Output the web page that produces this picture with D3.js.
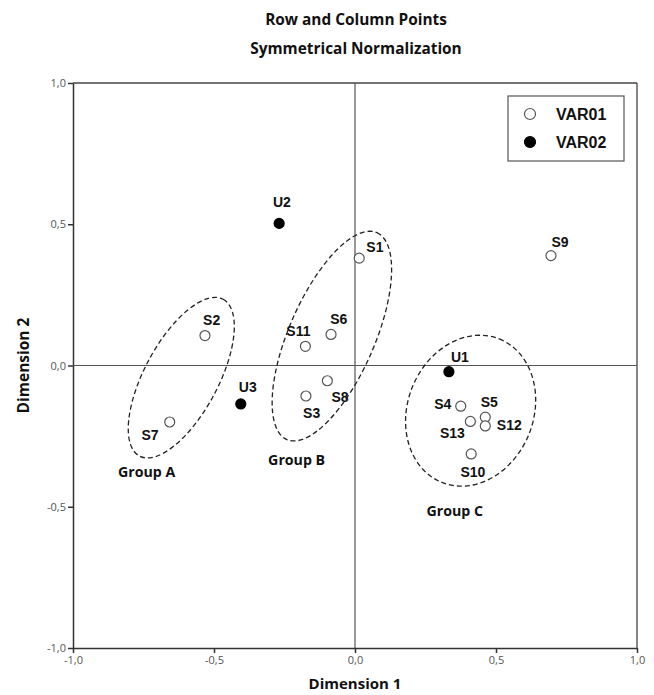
<!DOCTYPE html>
<html>
<head>
<meta charset="utf-8">
<script src="https://cdn.jsdelivr.net/npm/d3@7"></script>
<style>
  html, body { margin: 0; padding: 0; background: #fff; }
  svg { display: block; }
</style>
</head>
<body>
<div id="chart"></div>
<script>
// ---------- DATA ----------
const title1 = "Row and Column Points";
const title2 = "Symmetrical Normalization";
const xTitle = "Dimension 1";
const yTitle = "Dimension 2";
const tickValues = [-1.0, -0.5, 0.0, 0.5, 1.0];
const tickLabels = ["-1,0", "-0,5", "0,0", "0,5", "1,0"];

const seriesNames = ["VAR01", "VAR02"];

const var01Labels = ["S1", "S2", "S3", "S4", "S5", "S6", "S7", "S8", "S9", "S10", "S11", "S12", "S13"];
const var01X = [0.015, -0.532, -0.174, 0.375, 0.462, -0.085, -0.657, -0.098, 0.695, 0.412, -0.176, 0.462, 0.409];
const var01Y = [0.380, 0.106, -0.108, -0.144, -0.183, 0.110, -0.200, -0.054, 0.389, -0.313, 0.068, -0.214, -0.198];

const var02Labels = ["U1", "U2", "U3"];
const var02X = [0.333, -0.269, -0.405];
const var02Y = [-0.022, 0.503, -0.136];

const groupNames = ["Group A", "Group B", "Group C"];
const groupCx = [-0.616, -0.082, 0.410];
const groupCy = [-0.043, 0.104, -0.160];
const groupRx = [0.315, 0.400, 0.274];
const groupRy = [0.131, 0.152, 0.223];
const groupAngle = [61.9, 66.5, 68.2];
const groupLabelX = [-0.739, -0.207, 0.354];
const groupLabelY = [-0.375, -0.332, -0.514];

// ---------- LAYOUT (label offsets in px) ----------
const labelOffset = {
  S1: [15.7, -11], S2: [6.7, -15.7], S3: [5.7, 17], S4: [-18, -2.4], S5: [4, -14.7],
  S6: [7.7, -15], S7: [-19.7, 12.7], S8: [12.7, 16.4], S9: [9, -13.6], S10: [1.7, 18.4],
  S11: [-7, -15.7], S12: [24, -1.3], S13: [-18, 12],
  U1: [11, -15], U2: [2.7, -21.6], U3: [7, -16.6]
};

const W = 654, H = 695;
const m = { left: 73, right: 654 - 637, top: 83, bottom: 695 - 648 };

const svg = d3.select("#chart").append("svg")
  .attr("width", W).attr("height", H)
  .style("background", "#fff");

const x = d3.scaleLinear().domain([-1, 1]).range([m.left, W - m.right]);
const y = d3.scaleLinear().domain([-1, 1]).range([H - m.bottom, m.top]);

const titleFont = "'Open Sans', 'DejaVu Sans', sans-serif";
const labelFont = "'Liberation Sans', Arial, sans-serif";

// Titles
svg.append("text").attr("x", 356).attr("y", 19)
  .attr("text-anchor", "middle").attr("dominant-baseline", "central")
  .style("font-family", titleFont).style("font-weight", "bold").style("font-size", "15.4px")
  .style("fill", "#111").text(title1);
svg.append("text").attr("x", 356).attr("y", 48)
  .attr("text-anchor", "middle").attr("dominant-baseline", "central")
  .style("font-family", titleFont).style("font-weight", "bold").style("font-size", "15.4px")
  .style("fill", "#111").text(title2);

// Axes
const xAxis = d3.axisBottom(x).tickValues(tickValues)
  .tickFormat((d, i) => tickLabels[i]).tickSizeOuter(0).tickSizeInner(5).tickPadding(3);
const yAxis = d3.axisLeft(y).tickValues(tickValues)
  .tickFormat((d, i) => tickLabels[i]).tickSizeOuter(0).tickSizeInner(5).tickPadding(2);

const gx = svg.append("g").attr("transform", `translate(0,${H - m.bottom})`).call(xAxis);
const gy = svg.append("g").attr("transform", `translate(${m.left},0)`).call(yAxis);
[gx, gy].forEach(g => {
  g.select(".domain").attr("stroke", "#333").attr("stroke-width", 1.5);
  g.selectAll(".tick line").attr("stroke", "#333").attr("stroke-width", 1.5);
  g.selectAll(".tick text").style("font-family", titleFont).style("font-size", "11px")
    .style("fill", "#555");
});

// Frame top / right
svg.append("line").attr("x1", x(-1)).attr("x2", x(1)).attr("y1", y(1)).attr("y2", y(1))
  .attr("stroke", "#444").attr("stroke-width", 1.3);
svg.append("line").attr("x1", x(1)).attr("x2", x(1)).attr("y1", y(1)).attr("y2", y(-1))
  .attr("stroke", "#444").attr("stroke-width", 1.3);

// Reference lines at 0
svg.append("line").attr("x1", x(0)).attr("x2", x(0)).attr("y1", y(1)).attr("y2", y(-1))
  .attr("stroke", "#555").attr("stroke-width", 1.2);
svg.append("line").attr("x1", x(-1)).attr("x2", x(1)).attr("y1", y(0)).attr("y2", y(0))
  .attr("stroke", "#555").attr("stroke-width", 1.2);

// Axis titles
svg.append("text").attr("x", x(0)).attr("y", 683)
  .attr("text-anchor", "middle").attr("dominant-baseline", "central")
  .style("font-family", titleFont).style("font-weight", "bold").style("font-size", "15px")
  .style("fill", "#111").text(xTitle);
svg.append("text").attr("transform", `translate(23,${y(0)}) rotate(-90)`)
  .attr("text-anchor", "middle").attr("dominant-baseline", "central")
  .style("font-family", titleFont).style("font-weight", "bold").style("font-size", "15.5px")
  .style("fill", "#111").text(yTitle);

// Group ellipses
const unit = x(1) - x(0);
const groups = groupNames.map((n, i) => ({
  name: n, cx: groupCx[i], cy: groupCy[i], rx: groupRx[i], ry: groupRy[i],
  angle: groupAngle[i], lx: groupLabelX[i], ly: groupLabelY[i]
}));
svg.append("g").selectAll("ellipse").data(groups).join("ellipse")
  .attr("transform", d => `translate(${x(d.cx)},${y(d.cy)}) rotate(${-d.angle})`)
  .attr("rx", d => d.rx * unit).attr("ry", d => d.ry * unit)
  .attr("fill", "none").attr("stroke", "#222").attr("stroke-width", 1.3)
  .attr("stroke-dasharray", "5,3");
svg.append("g").selectAll("text").data(groups).join("text")
  .attr("x", d => x(d.lx)).attr("y", d => y(d.ly))
  .attr("text-anchor", "middle").attr("dominant-baseline", "central")
  .style("font-family", titleFont).style("font-weight", "bold").style("font-size", "14.2px")
  .style("fill", "#111").text(d => d.name);

// Points
const pts01 = var01Labels.map((l, i) => ({ label: l, x: var01X[i], y: var01Y[i], s: 0 }));
const pts02 = var02Labels.map((l, i) => ({ label: l, x: var02X[i], y: var02Y[i], s: 1 }));
const all = pts01.concat(pts02);

svg.append("g").selectAll("circle").data(all).join("circle")
  .attr("cx", d => x(d.x)).attr("cy", d => y(d.y)).attr("r", 5)
  .attr("fill", d => d.s ? "#000" : "#fff")
  .attr("stroke", d => d.s ? "#000" : "#555").attr("stroke-width", 1.2);

svg.append("g").selectAll("text").data(all).join("text")
  .attr("x", d => x(d.x) + labelOffset[d.label][0])
  .attr("y", d => y(d.y) + labelOffset[d.label][1])
  .attr("text-anchor", "middle").attr("dominant-baseline", "central")
  .style("font-family", labelFont).style("font-weight", "bold").style("font-size", "14px")
  .style("fill", "#111").text(d => d.label);

// Legend
const lg = svg.append("g");
lg.append("rect").attr("x", 508).attr("y", 96).attr("width", 116).attr("height", 65)
  .attr("fill", "#fff").attr("stroke", "#555").attr("stroke-width", 1.2);
const legendRows = seriesNames.map((n, i) => ({ name: n, s: i }));
lg.selectAll("circle").data(legendRows).join("circle")
  .attr("cx", 530).attr("cy", (d, i) => 114 + i * 28).attr("r", 5.5)
  .attr("fill", d => d.s ? "#000" : "#fff")
  .attr("stroke", d => d.s ? "#000" : "#555").attr("stroke-width", 1.2);
lg.selectAll("text").data(legendRows).join("text")
  .attr("x", 556).attr("y", (d, i) => 114 + i * 28)
  .attr("dominant-baseline", "central")
  .style("font-family", labelFont).style("font-weight", "bold").style("font-size", "16px")
  .style("fill", "#111").text(d => d.name);
</script>
</body>
</html>
